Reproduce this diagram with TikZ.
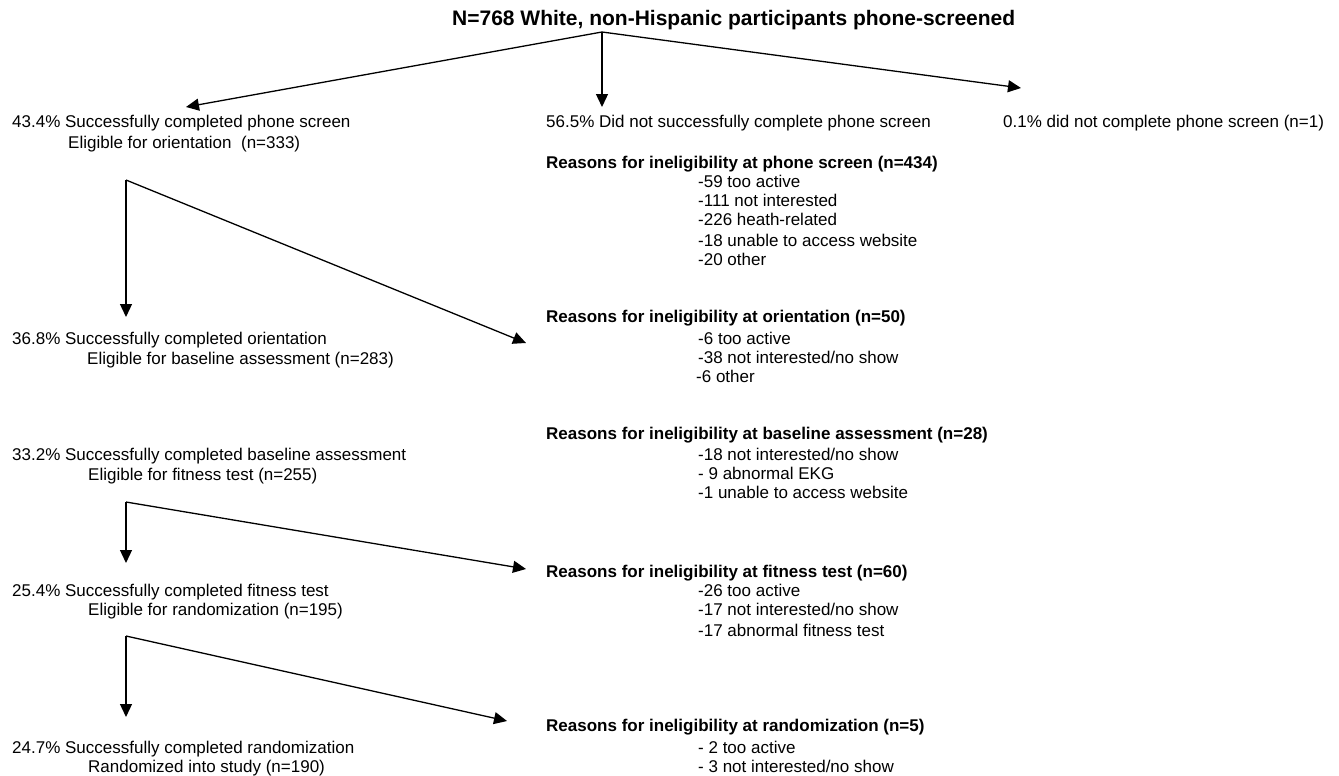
\documentclass[tikz,border=0pt]{standalone}
\usepackage{fontspec}
\setmainfont{Liberation Sans}
\usetikzlibrary{arrows.meta}
\tikzset{
  txt/.style={anchor=base west, inner sep=0pt, font=\fontsize{17}{20}\selectfont},
  hdr/.style={anchor=base west, inner sep=0pt, font=\fontsize{17}{20}\selectfont\bfseries},
  ttl/.style={anchor=base west, inner sep=0pt, font=\fontsize{21}{24}\selectfont\bfseries},
  arr/.style={line width=1.3pt, -{Triangle[length=13pt,width=12pt]}},
}
\begin{document}
\begin{tikzpicture}[x=1pt,y=-1pt]
\useasboundingbox (0,0) rectangle (1339,776);
\fill[white] (0,0) rectangle (1339,776);

% title
\node[ttl] (title) at (452,26) {N=768 White, non-Hispanic participants phone-screened};

% left column
\node[txt] (l1a) at (12,128) {43.4\% Successfully completed phone screen};
\node[txt] (l1b) at (68,148) {Eligible for orientation\ \ (n=333)};
\node[txt] (l2a) at (12,344) {36.8\% Successfully completed orientation};
\node[txt] (l2b) at (87,364) {Eligible for baseline assessment (n=283)};
\node[txt] (l3a) at (12,460) {33.2\% Successfully completed baseline assessment};
\node[txt] (l3b) at (88,480) {Eligible for fitness test (n=255)};
\node[txt] (l4a) at (12,596) {25.4\% Successfully completed fitness test};
\node[txt] (l4b) at (88,615) {Eligible for randomization (n=195)};
\node[txt] (l5a) at (12,753) {24.7\% Successfully completed randomization};
\node[txt] (l5b) at (88,772) {Randomized into study (n=190)};

% middle / right top
\node[txt] (m1) at (546,128) {56.5\% Did not successfully complete phone screen};
\node[txt] (r1) at (1003,128) {0.1\% did not complete phone screen (n=1)};

% reasons: phone screen
\node[hdr] (h1) at (546,168) {Reasons for ineligibility at phone screen (n=434)};
\node[txt] (h1a) at (698,187) {-59 too active};
\node[txt] (h1b) at (698,206) {-111 not interested};
\node[txt] (h1c) at (698,225) {-226 heath-related};
\node[txt] (h1d) at (698,246) {-18 unable to access website};
\node[txt] (h1e) at (698,265) {-20 other};

% reasons: orientation
\node[hdr] (h2) at (546,322) {Reasons for ineligibility at orientation (n=50)};
\node[txt] (h2a) at (698,344) {-6 too active};
\node[txt] (h2b) at (698,363) {-38 not interested/no show};
\node[txt] (h2c) at (696,382) {-6 other};

% reasons: baseline
\node[hdr] (h3) at (546,439) {Reasons for ineligibility at baseline assessment (n=28)};
\node[txt] (h3a) at (698,460) {-18 not interested/no show};
\node[txt] (h3b) at (698,479) {- 9 abnormal EKG};
\node[txt] (h3c) at (698,498) {-1 unable to access website};

% reasons: fitness
\node[hdr] (h4) at (546,577) {Reasons for ineligibility at fitness test (n=60)};
\node[txt] (h4a) at (698,596) {-26 too active};
\node[txt] (h4b) at (698,615) {-17 not interested/no show};
\node[txt] (h4c) at (698,636) {-17 abnormal fitness test};

% reasons: randomization
\node[hdr] (h5) at (546,731) {Reasons for ineligibility at randomization (n=5)};
\node[txt] (h5a) at (698,753) {- 2 too active};
\node[txt] (h5b) at (698,772) {- 3 not interested/no show};

% connector coordinates
\coordinate (apex) at (602,32);
\coordinate (tL) at (186,107);
\coordinate (tM) at (602,107);
\coordinate (tR) at (1021,88);
\coordinate (c1) at (126,180);
\coordinate (c1d) at (126,317);
\coordinate (c1r) at (526,343);
\coordinate (c2) at (126,502);
\coordinate (c2d) at (126,563);
\coordinate (c2r) at (526,569);
\coordinate (c3) at (126,636);
\coordinate (c3d) at (126,717);
\coordinate (c3r) at (507,721);

\draw[arr] (apex) -- (tL);
\draw[arr] (apex) -- (tM);
\draw[arr] (apex) -- (tR);
\draw[arr] (c1) -- (c1d);
\draw[arr] (c1) -- (c1r);
\draw[arr] (c2) -- (c2d);
\draw[arr] (c2) -- (c2r);
\draw[arr] (c3) -- (c3d);
\draw[arr] (c3) -- (c3r);
\end{tikzpicture}
\end{document}
